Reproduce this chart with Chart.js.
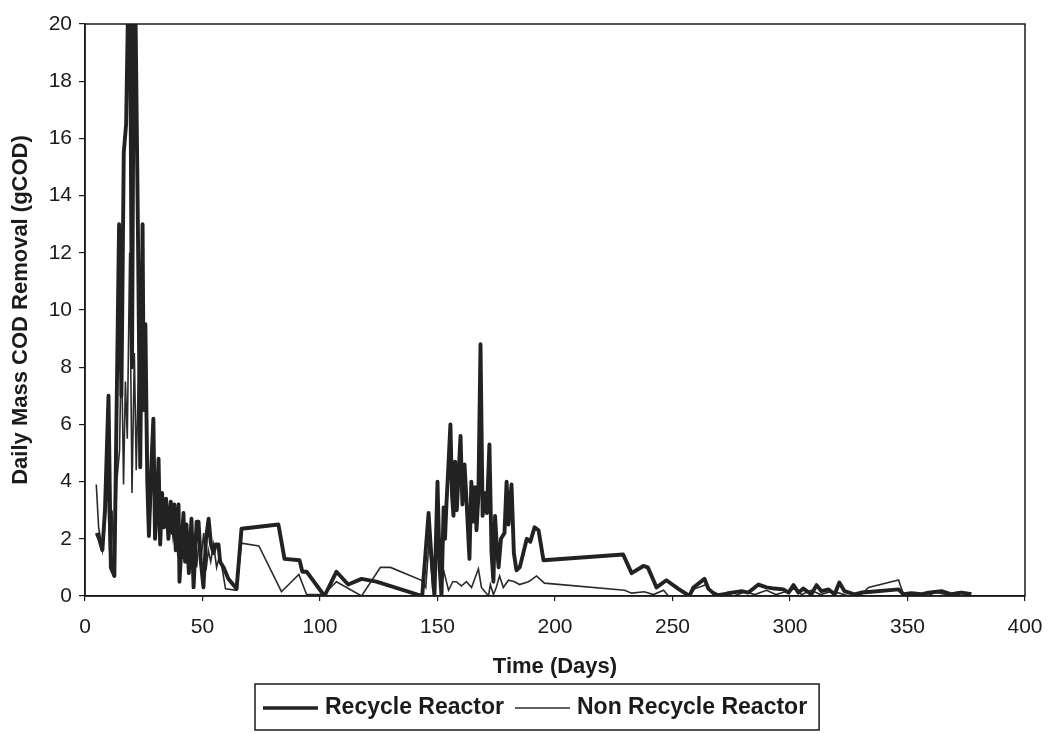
<!DOCTYPE html>
<html>
<head>
<meta charset="utf-8">
<title>Daily Mass COD Removal</title>
<style>
  html, body { margin: 0; padding: 0; background: #ffffff; }
  #wrap { width: 1053px; height: 734px; }
</style>
<script src="https://cdn.jsdelivr.net/npm/chart.js@4.4.1/dist/chart.umd.min.js"></script>
</head>
<body>
<div id="wrap"><canvas id="codChart" width="1053" height="734"></canvas></div>
<script>
// Recycle reactor: day of operation and daily COD mass removed (g)
const recycleDays = [
  5.0, 6.0, 7.4, 8.5, 10.0, 11.0, 12.5, 14.5, 15.5, 16.5, 17.5, 19.0, 20.0, 21.0, 22.5, 23.5,
  24.5, 25.0, 25.7, 26.5, 27.2, 28.2, 29.1, 29.8, 30.5, 31.3, 32.0, 32.8, 33.6, 34.5, 35.5, 36.5,
  37.3, 38.0, 38.6, 39.8, 40.2, 41.9, 42.6, 43.2, 44.2, 45.3, 46.2, 47.5, 48.3, 49.3, 50.4, 51.5,
  52.6, 53.6, 54.7, 55.6, 56.8, 57.5, 59.0, 61.0, 64.5, 66.6, 82.3, 84.9, 91.3, 92.5, 94.3, 101.9,
  107.0, 112.0, 117.7, 124.0, 143.5, 146.2, 147.3, 148.7, 150.0, 150.9, 151.7, 152.6, 153.2, 153.8,
  154.6, 155.5, 156.2, 156.8, 157.5, 158.2, 159.8, 160.6, 161.5, 162.3, 163.6, 164.4, 165.3, 166.0,
  166.6, 167.4, 168.3, 169.2, 170.0, 171.0, 172.1, 173.0, 173.8, 174.5, 175.2, 176.0, 177.0, 178.5,
  179.4, 180.2, 181.5, 182.5, 183.6, 185.0, 186.5, 188.0, 189.5, 191.3, 193.0, 195.1, 229.0, 232.6,
  237.6, 239.5, 241.9, 243.2, 247.4, 252.5, 257.2, 258.9, 263.6, 265.3, 267.4, 270.0, 273.8, 279.4,
  282.3, 286.6, 290.0, 293.4, 297.2, 299.4, 301.5, 303.6, 305.7, 309.1, 311.3, 313.4, 316.4, 319.0,
  321.0, 323.2, 327.4, 330.4, 333.4, 346.2, 348.3, 351.7, 355.9, 358.9, 364.5, 368.7, 373.0, 377.2
];
const recycleCOD = [
  2.2, 2.0, 1.6, 3.0, 7.0, 1.0, 0.7, 13.0, 7.0, 15.5, 16.5, 24.0, 8.0, 24.0, 13.0, 4.5,
  13.0, 6.5, 9.5, 4.0, 2.1, 4.5, 6.2, 2.0, 3.0, 4.8, 1.8, 3.6, 2.4, 3.4, 2.0, 3.3,
  2.2, 3.2, 1.6, 3.2, 0.5, 2.9, 1.2, 2.5, 0.8, 2.7, 0.3, 2.6, 2.6, 1.2, 0.3, 2.0,
  2.7, 1.8, 1.5, 1.8, 1.8, 1.2, 1.0, 0.6, 0.25, 2.35, 2.5, 1.3, 1.25, 0.85, 0.85, 0.0,
  0.85, 0.4, 0.6, 0.5, 0.0, 2.9, 1.5, 0.0, 4.0, 1.0, 0.0, 3.1, 2.0, 3.2,
  4.5, 6.0, 3.5, 2.8, 4.7, 3.0, 5.6, 3.2, 4.6, 3.4, 1.3, 4.0, 2.6, 3.8,
  2.3, 3.5, 8.8, 2.8, 3.6, 2.9, 5.3, 1.5, 0.5, 2.8, 1.8, 1.0, 2.0, 2.2,
  4.0, 2.5, 3.9, 1.5, 0.9, 1.0, 1.5, 2.0, 1.9, 2.4, 2.3, 1.25, 1.45, 0.8,
  1.05, 1.0, 0.55, 0.3, 0.55, 0.25, 0.0, 0.3, 0.6, 0.25, 0.1, 0.0, 0.1, 0.17,
  0.12, 0.4, 0.3, 0.26, 0.23, 0.12, 0.38, 0.12, 0.26, 0.06, 0.38, 0.17, 0.23, 0.06,
  0.47, 0.17, 0.06, 0.12, 0.14, 0.23, 0.06, 0.1, 0.06, 0.12, 0.17, 0.06, 0.12, 0.06
];

// Non-recycle reactor: day of operation and daily COD mass removed (g)
const nonRecycleDays = [
  4.8, 5.8, 7.4, 8.5, 9.5, 10.5, 11.5, 12.5, 13.5, 14.7, 15.5, 16.4, 17.2, 18.0, 19.0, 20.0,
  21.0, 21.8, 22.5, 23.2, 24.0, 24.8, 25.7, 26.5, 27.2, 28.0, 28.7, 29.5, 30.5, 31.5, 32.5, 33.5,
  34.5, 35.5, 36.5, 37.5, 38.5, 39.5, 40.5, 41.5, 42.5, 43.5, 44.5, 45.5, 46.5, 47.5, 48.5, 49.5,
  50.5, 51.5, 52.5, 53.5, 54.7, 56.0, 57.2, 58.5, 59.8, 64.5, 66.6, 74.0, 83.6, 91.0, 94.3, 101.5,
  107.0, 117.7, 125.7, 130.0, 143.2, 145.0, 146.5, 148.0, 150.2, 151.5, 152.6, 154.7, 156.5, 158.0,
  160.2, 162.3, 164.5, 167.4, 168.7, 171.7, 172.5, 173.8, 175.0, 176.4, 178.0, 180.2, 182.8, 184.9,
  188.7, 190.5, 192.1, 193.5, 195.5, 229.6, 232.6, 238.0, 241.9, 246.2, 248.3, 257.2, 259.4, 264.5,
  267.4, 272.0, 276.0, 281.0, 285.0, 290.0, 294.0, 298.0, 302.0, 305.0, 309.0, 313.0, 317.0, 321.0,
  325.0, 330.4, 333.4, 346.2, 348.3, 353.0, 358.0, 362.0, 367.0, 372.0, 376.0
];
const nonRecycleCOD = [
  3.9, 2.4, 1.6, 2.5, 4.0, 1.5, 3.0, 0.8, 4.0, 5.1, 9.0, 3.9, 7.5, 5.5, 12.0, 3.6,
  8.5, 4.4, 7.0, 9.0, 6.8, 8.5, 9.2, 6.0, 2.1, 3.2, 6.0, 2.5, 3.8, 2.0, 3.5, 2.8,
  3.2, 2.3, 2.8, 2.0, 2.6, 1.4, 2.2, 1.3, 2.4, 1.5, 2.0, 1.2, 2.2, 1.0, 1.9, 1.4,
  2.2, 0.9, 1.6, 1.2, 1.8, 1.0, 1.4, 0.9, 0.25, 0.2, 1.85, 1.75, 0.15, 0.75, 0.05, 0.05,
  0.5, 0.0, 1.0, 1.0, 0.55, 0.3, 2.0, 0.2, 3.0, 0.1, 0.9, 0.2, 0.5, 0.5,
  0.35, 0.5, 0.3, 0.95, 0.3, 0.0, 0.4, 0.05, 0.3, 0.7, 0.3, 0.55, 0.5, 0.4,
  0.5, 0.6, 0.7, 0.6, 0.45, 0.2, 0.1, 0.15, 0.05, 0.2, 0.0, 0.0, 0.25, 0.4,
  0.05, 0.1, 0.0, 0.15, 0.05, 0.2, 0.05, 0.15, 0.25, 0.05, 0.2, 0.05, 0.15, 0.1,
  0.0, 0.05, 0.3, 0.56, 0.05, 0.1, 0.0, 0.12, 0.05, 0.15, 0.05
];

const seriesNames = ['Recycle Reactor', 'Non Recycle Reactor'];
const xTickValues = [0, 50, 100, 150, 200, 250, 300, 350, 400];
const yTickValues = [0, 2, 4, 6, 8, 10, 12, 14, 16, 18, 20];
const xAxisTitle = 'Time (Days)';
const yAxisTitle = 'Daily Mass COD Removal (gCOD)';

const INK = '#1b1b1b';
const FONT = "'Liberation Sans', Arial, Helvetica, sans-serif";

function pairUp(days, values) {
  return days.map((d, i) => ({ x: d, y: values[i] }));
}

// Closes the plot frame on the top and right sides
const plotFrame = {
  id: 'plotFrame',
  afterDraw(chart) {
    const { ctx, chartArea: a } = chart;
    ctx.save();
    ctx.strokeStyle = INK;
    ctx.lineWidth = 1.5;
    ctx.strokeRect(a.left, a.top, a.right - a.left, a.bottom - a.top);
    ctx.restore();
  }
};

// Boxed legend below the axis title, with line samples in each dataset's stroke
const boxedLegend = {
  id: 'boxedLegend',
  afterDraw(chart) {
    const { ctx } = chart;
    const boxLeft = 255, boxTop = 684, boxHeight = 46;
    const sampleLen = 55, gap = 7, itemGap = 11, padL = 8, padR = 12;
    const cy = boxTop + boxHeight / 2 + 1;
    ctx.save();
    ctx.font = 'bold 23px ' + FONT;
    ctx.textBaseline = 'middle';
    ctx.textAlign = 'left';
    let x = boxLeft + padL;
    chart.data.datasets.forEach((ds, i) => {
      if (i > 0) x += itemGap;
      ctx.strokeStyle = ds.borderColor;
      ctx.lineWidth = i === 0 ? 3.4 : 1.5;
      ctx.beginPath();
      ctx.moveTo(x, cy);
      ctx.lineTo(x + sampleLen, cy);
      ctx.stroke();
      x += sampleLen + gap;
      ctx.fillStyle = INK;
      ctx.fillText(ds.label, x, cy);
      x += ctx.measureText(ds.label).width;
    });
    const boxRight = x + padR;
    ctx.strokeStyle = INK;
    ctx.lineWidth = 1.5;
    ctx.strokeRect(boxLeft, boxTop, boxRight - boxLeft, boxHeight);
    ctx.restore();
  }
};

Chart.defaults.font.family = FONT;
Chart.defaults.color = INK;

new Chart(document.getElementById('codChart'), {
  type: 'line',
  data: {
    datasets: [
      {
        label: seriesNames[0],
        data: pairUp(recycleDays, recycleCOD),
        borderColor: '#222222',
        borderWidth: 3.9,
        borderJoinStyle: 'round',
        pointRadius: 0,
        tension: 0,
        order: 1
      },
      {
        label: seriesNames[1],
        data: pairUp(nonRecycleDays, nonRecycleCOD),
        borderColor: '#2a2a2a',
        borderWidth: 1.6,
        pointRadius: 0,
        tension: 0,
        order: 2
      }
    ]
  },
  options: {
    responsive: false,
    animation: false,
    devicePixelRatio: 1,
    layout: { padding: { left: 0, top: 24, right: 28, bottom: 0 } },
    plugins: {
      legend: { display: false },
      tooltip: { enabled: false }
    },
    scales: {
      x: {
        type: 'linear',
        min: 0,
        max: 400,
        afterBuildTicks(scale) { scale.ticks = xTickValues.map(v => ({ value: v })); },
        afterFit(scale) {
          scale.height = 138;
          scale.paddingLeft = 0;
          scale.paddingRight = 0;
        },
        ticks: { font: { size: 21 }, color: INK, padding: 14, maxRotation: 0 },
        grid: { display: true, drawOnChartArea: false, drawTicks: true, tickLength: 5, color: INK, lineWidth: 1.2 },
        border: { display: true, color: INK, width: 1.5 },
        title: {
          display: true,
          text: xAxisTitle,
          font: { size: 22, weight: 'bold' },
          color: INK,
          padding: { top: 0, bottom: 54 }
        }
      },
      y: {
        type: 'linear',
        min: 0,
        max: 20,
        afterBuildTicks(scale) { scale.ticks = yTickValues.map(v => ({ value: v })); },
        afterFit(scale) {
          scale.width = 85;
          scale.paddingTop = 0;
          scale.paddingBottom = 0;
        },
        ticks: { font: { size: 21 }, color: INK, padding: 7 },
        grid: { display: true, drawOnChartArea: false, drawTicks: true, tickLength: 6, color: INK, lineWidth: 1.2 },
        border: { display: true, color: INK, width: 1.5 },
        title: {
          display: true,
          text: yAxisTitle,
          font: { size: 22, weight: 'bold' },
          color: INK,
          padding: { top: 8, bottom: 0 }
        }
      }
    }
  },
  plugins: [plotFrame, boxedLegend]
});
</script>
</body>
</html>
